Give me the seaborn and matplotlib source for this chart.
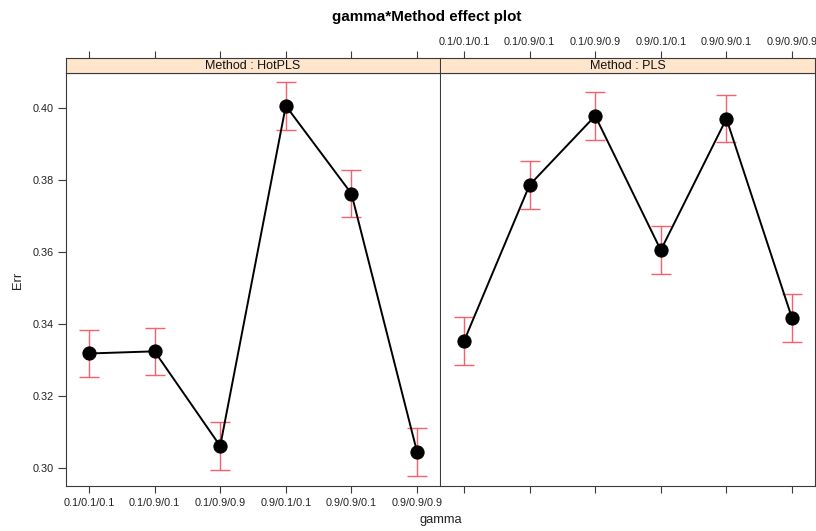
import numpy as np
import pandas as pd
import matplotlib
matplotlib.use("Agg")
import matplotlib.pyplot as plt
import seaborn as sns

# Effect estimates of Err for each gamma level, by method, with 95% bounds
gamma_levels = ["0.1/0.1/0.1", "0.1/0.9/0.1", "0.1/0.9/0.9",
                "0.9/0.1/0.1", "0.9/0.9/0.1", "0.9/0.9/0.9"]
methods = ["HotPLS", "PLS"]

hotpls_err = [0.3318, 0.3324, 0.3061, 0.4006, 0.3762, 0.3045]
hotpls_lower = [0.3253, 0.3259, 0.2995, 0.3940, 0.3696, 0.2979]
hotpls_upper = [0.3384, 0.3390, 0.3127, 0.4072, 0.3828, 0.3111]

pls_err = [0.3352, 0.3786, 0.3978, 0.3605, 0.3970, 0.3416]
pls_lower = [0.3286, 0.3720, 0.3912, 0.3539, 0.3904, 0.3350]
pls_upper = [0.3418, 0.3852, 0.4044, 0.3671, 0.4036, 0.3482]

y_ticks = [0.30, 0.32, 0.34, 0.36, 0.38, 0.40]

sns.set_theme(style="white")
plt.rcParams["font.family"] = ["Liberation Sans", "DejaVu Sans"]

frames = []
for m, est, lo, hi in [("HotPLS", hotpls_err, hotpls_lower, hotpls_upper),
                       ("PLS", pls_err, pls_lower, pls_upper)]:
    frames.append(pd.DataFrame({
        "gamma": gamma_levels,
        "pos": np.arange(len(gamma_levels)),
        "Method": m,
        "Err": est,
        "lower": lo,
        "upper": hi,
    }))
df = pd.concat(frames, ignore_index=True)

W, H = 816, 531
fig = plt.figure(figsize=(W / 100, H / 100), dpi=100)

panel_l = [66, 441]
panel_w = 374
panel_top, panel_bot = 73, 486
strip_top = 58

tick_fs = 7.8
border = "#3a3a3a"
ci_color = "#f7606c"
strip_color = "#ffe5cc"
xlim = (-0.35, 5.35)
ylim = (0.295, 0.4097)

for i, m in enumerate(methods):
    x0 = panel_l[i]
    ax = fig.add_axes([x0 / W, 1 - panel_bot / H, panel_w / W, (panel_bot - panel_top) / H])
    sax = fig.add_axes([x0 / W, 1 - panel_top / H, panel_w / W, (panel_top - strip_top) / H])
    sub = df[df["Method"] == m]

    ax.errorbar(sub["pos"], sub["Err"],
                yerr=[sub["Err"] - sub["lower"], sub["upper"] - sub["Err"]],
                fmt="none", ecolor=ci_color, elinewidth=1.0, capsize=7, capthick=1.0,
                zorder=2)
    sns.lineplot(data=sub, x="pos", y="Err", ax=ax, color="black", linewidth=1.4,
                 marker="o", markersize=9.5, markeredgecolor="black",
                 markerfacecolor="black", zorder=3)

    ax.set_xlim(*xlim)
    ax.set_ylim(*ylim)
    ax.set_xticks(range(len(gamma_levels)))
    ax.set_xlabel("")
    ax.set_ylabel("")
    for s in ax.spines.values():
        s.set_color(border)
        s.set_linewidth(0.8)
    ax.tick_params(axis="both", which="both", direction="out", length=5, width=0.8,
                   color=border, labelsize=tick_fs, labelcolor="#222222", pad=2)
    if i == 0:
        ax.set_xticklabels(gamma_levels)
        ax.set_yticks(y_ticks)
        ax.set_yticklabels([f"{v:.2f}" for v in y_ticks])
        ax.tick_params(axis="y", left=True, length=6, pad=3)
        ax.tick_params(axis="x", bottom=True, pad=4)
    else:
        ax.spines["left"].set_visible(False)
        ax.set_xticklabels([])
        ax.set_yticks([])
        ax.tick_params(axis="x", bottom=True)

    # strip header with the top tick marks
    sax.set_facecolor(strip_color)
    sax.set_xlim(*xlim)
    sax.set_ylim(0, 1)
    sax.set_yticks([])
    sax.set_xticks(range(len(gamma_levels)))
    sax.xaxis.set_ticks_position("top")
    sax.tick_params(axis="x", top=True, bottom=False, direction="out", length=5,
                    width=0.8, color=border, labelsize=tick_fs, labelcolor="#222222", pad=3)
    if i == 1:
        sax.set_xticklabels(gamma_levels)
        sax.spines["left"].set_visible(False)
    else:
        sax.set_xticklabels([])
    for s in sax.spines.values():
        s.set_color(border)
        s.set_linewidth(0.8)
    sax.text(2.5, 0.45, f"Method : {m}", ha="center", va="center", fontsize=9,
             color="#111111")

fig.text(427 / W, 1 - 17 / H, "gamma*Method effect plot", ha="center", va="center",
         fontsize=10.9, fontweight="bold", color="black")
fig.text(441 / W, 1 - 520 / H, "gamma", ha="center", va="center", fontsize=9.3,
         color="#222222")
fig.text(18 / W, 1 - 280 / H, "Err", ha="center", va="center", rotation=90,
         fontsize=9.3, color="#222222")

fig.savefig("out.png", dpi=100)
